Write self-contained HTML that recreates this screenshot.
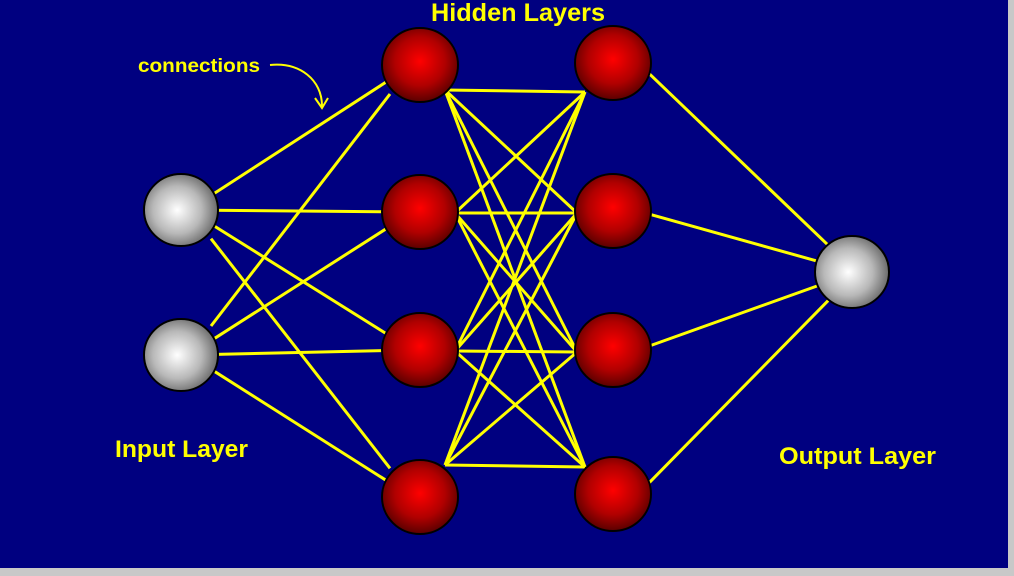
<!DOCTYPE html>
<html><head><meta charset="utf-8"><style>
html,body{margin:0;padding:0;background:#c8c8c8;width:1014px;height:576px;overflow:hidden}
svg{display:block}
text{font-family:"Liberation Sans",sans-serif;font-weight:bold;fill:#ffff00}
</style></head><body>
<svg id="net" width="1014" height="576">
<defs>
<radialGradient id="red" cx="0.5" cy="0.45" r="0.55"><stop offset="0" stop-color="#ff0000"/><stop offset="0.6" stop-color="#b00000"/><stop offset="1" stop-color="#5a0000"/></radialGradient>
<radialGradient id="grey" cx="0.45" cy="0.5" r="0.55"><stop offset="0" stop-color="#ffffff"/><stop offset="0.6" stop-color="#b8b8b8"/><stop offset="1" stop-color="#6a6a6a"/></radialGradient>
</defs>
<rect x="0" y="0" width="1008" height="568" fill="#000080"/>
<g id="lines"></g><g id="nodes"></g>
<text x="431" y="21" font-size="25" textLength="174" lengthAdjust="spacingAndGlyphs">Hidden Layers</text>
<text x="138" y="72" font-size="19" textLength="122" lengthAdjust="spacingAndGlyphs">connections</text>
<path d="M270 65 C300 62 322 80 322 106 M315 98 L322 108 L328 98" stroke="#ffff00" stroke-width="2" fill="none"/>
<text x="115" y="457" font-size="24" textLength="133" lengthAdjust="spacingAndGlyphs">Input Layer</text>
<text x="779" y="464" font-size="24" textLength="157" lengthAdjust="spacingAndGlyphs">Output Layer</text>
</svg>
<script>
const inputY=[210,355];
const hidden1Y=[65,212,350,497];
const hidden2Y=[63,211,350,494];
const outputY=[272];
const layerX=[181,420,613,852];
const ns="http://www.w3.org/2000/svg";
const L=document.getElementById('lines'),N=document.getElementById('nodes');
function line(x1,y1,x2,y2){const l=document.createElementNS(ns,'line');
l.setAttribute('x1',x1);l.setAttribute('y1',y1);l.setAttribute('x2',x2);l.setAttribute('y2',y2);
l.setAttribute('stroke','#ffff00');l.setAttribute('stroke-width','3');


L.appendChild(l);}
function h1a(i){const y=hidden1Y[i];return i==0?[445,y+25]:i==3?[445,y-32]:[455,y+1];}
function h2a(i){const y=hidden2Y[i];return i==0?[585,y+29]:i==3?[585,y-27]:[577,y+2];}
inputY.forEach(a=>hidden1Y.forEach(b=>line(layerX[0]+30,a+(b-a)*0.1,layerX[1]-30,b-(b-a)*0.1)));
hidden1Y.forEach((a,i)=>hidden2Y.forEach((b,j)=>{const p=h1a(i),q=h2a(j);line(p[0],p[1],q[0],q[1]);}));
hidden2Y.forEach(a=>outputY.forEach(b=>line(layerX[2]+36,a+(b-a)*0.05,layerX[3]-22,b-(b-a)*0.12)));
function node(x,y,fill,r,name){const c=document.createElementNS(ns,'ellipse');
c.setAttribute('cx',x);c.setAttribute('cy',y);c.setAttribute('rx',r);c.setAttribute('ry',r-1);
c.setAttribute('fill',fill);c.setAttribute('stroke','#000');c.setAttribute('stroke-width','2');


N.appendChild(c);}
inputY.forEach(y=>node(layerX[0],y,'url(#grey)',37,'input-node'));
hidden1Y.forEach(y=>node(layerX[1],y,'url(#red)',38,'hidden1-node'));
hidden2Y.forEach(y=>node(layerX[2],y,'url(#red)',38,'hidden2-node'));
outputY.forEach(y=>node(layerX[3],y,'url(#grey)',37,'output-node'));
</script>
</body></html>
